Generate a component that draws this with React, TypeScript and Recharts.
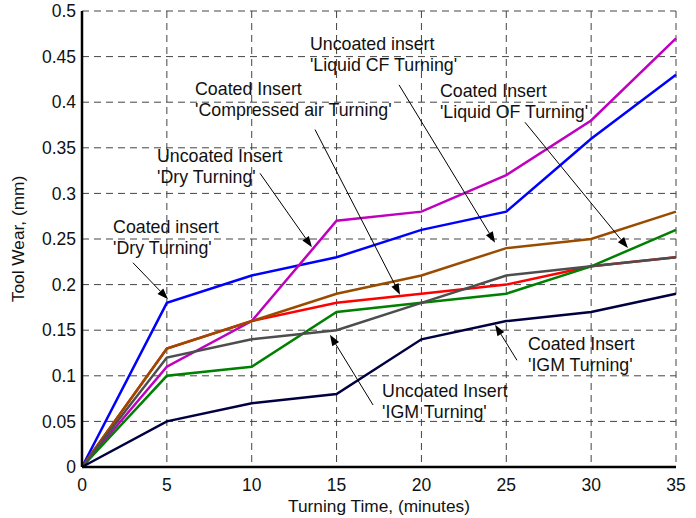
import React from 'react'
import { LineChart, Line, XAxis, YAxis, CartesianGrid, ReferenceLine, ReferenceDot } from 'recharts'

const times = [0, 5, 10, 15, 20, 25, 30, 35]
const coatedDry = [0, 0.18, 0.21, 0.23, 0.26, 0.28, 0.36, 0.43]
const uncoatedDry = [0, 0.11, 0.16, 0.27, 0.28, 0.32, 0.38, 0.47]
const coatedAir = [0, 0.13, 0.16, 0.18, 0.19, 0.2, 0.22, 0.23]
const coatedLiquidOF = [0, 0.1, 0.11, 0.17, 0.18, 0.19, 0.22, 0.26]
const uncoatedLiquidCF = [0, 0.13, 0.16, 0.19, 0.21, 0.24, 0.25, 0.28]
const uncoatedIGM = [0, 0.12, 0.14, 0.15, 0.18, 0.21, 0.22, 0.23]
const coatedIGM = [0, 0.05, 0.07, 0.08, 0.14, 0.16, 0.17, 0.19]

const xTicks = [0, 5, 10, 15, 20, 25, 30, 35]
const yTicks = [0, 0.05, 0.1, 0.15, 0.2, 0.25, 0.3, 0.35, 0.4, 0.45, 0.5]

// annotation text (data coords of first baseline) and arrow from -> to
const notes = [
  { lines: ['Coated insert', "'Dry Turning'"], x: 1.83, y: 0.257, from: [3.0, 0.224], to: [5.07, 0.184] },
  { lines: ['Uncoated Insert', "'Dry Turning'"], x: 4.42, y: 0.334, from: [10.49, 0.322], to: [13.55, 0.241] },
  { lines: ['Coated Insert', "'Compressed air Turning'"], x: 6.66, y: 0.408, from: [13.73, 0.37], to: [18.74, 0.189] },
  { lines: ['Uncoated insert', "'Liquid CF Turning'"], x: 13.43, y: 0.457, from: [18.68, 0.419], to: [24.34, 0.246] },
  { lines: ['Coated Insert', "'Liquid OF Turning'"], x: 21.09, y: 0.406, from: [26.1, 0.378], to: [32.17, 0.24] },
  { lines: ['Coated Insert', "'IGM Turning'"], x: 26.28, y: 0.128, from: [25.63, 0.117], to: [24.34, 0.156] },
  { lines: ['Uncoated Insert', "'IGM Turning'"], x: 17.68, y: 0.077, from: [17.15, 0.068], to: [14.61, 0.145] },
]

const data = times.map((t, i) => ({
  t,
  coatedDry: coatedDry[i],
  uncoatedDry: uncoatedDry[i],
  coatedAir: coatedAir[i],
  coatedLiquidOF: coatedLiquidOF[i],
  uncoatedLiquidCF: uncoatedLiquidCF[i],
  uncoatedIGM: uncoatedIGM[i],
  coatedIGM: coatedIGM[i],
}))

const FONT = '"Liberation Sans", Arial, sans-serif'

const Arrow = (props: any) => {
  const { x1, y1, x2, y2 } = props
  const ang = Math.atan2(y2 - y1, x2 - x1)
  const len = 11
  const w = 4
  const bx = x2 - len * Math.cos(ang)
  const by = y2 - len * Math.sin(ang)
  const px = -Math.sin(ang) * w
  const py = Math.cos(ang) * w
  return (
    <g>
      <line x1={x1} y1={y1} x2={bx} y2={by} stroke="#000" strokeWidth={1} />
      <polygon points={`${x2},${y2} ${bx + px},${by + py} ${bx - px},${by - py}`} fill="#000" />
    </g>
  )
}

const noteText = (lines: string[]) => (props: any) => (
  <text x={props.cx} y={props.cy} fontFamily={FONT} fontSize={17.8} fill="#111">
    {lines.map((l, i) => (
      <tspan key={i} x={props.cx} dy={i === 0 ? 0 : 21}>{l}</tspan>
    ))}
  </text>
)

const App: React.FC = () => {
  return (
    <div style={{ position: 'absolute', left: 0, top: 0, background: '#fff' }}>
      <LineChart width={696} height={518} data={data} margin={{ top: 11, right: 20, bottom: 0, left: 0 }}>
        <CartesianGrid stroke="#444" strokeDasharray="7 5" strokeWidth={1} />
        <XAxis
          dataKey="t"
          type="number"
          domain={[0, 35]}
          ticks={xTicks}
          height={51}
          tickLine={false}
          tickSize={6}
          tickMargin={6}
          axisLine={{ stroke: '#000', strokeWidth: 2.5 }}
          tick={{ fill: '#111', fontSize: 17.5, fontFamily: FONT }}
          label={({ viewBox }: any) => (
            <text x={viewBox.x + viewBox.width / 2} y={viewBox.y + 45} textAnchor="middle" fontFamily={FONT} fontSize={17.3} fill="#111">
              Turning Time, (minutes)
            </text>
          )}
        />
        <YAxis
          type="number"
          domain={[0, 0.5]}
          ticks={yTicks}
          width={82}
          tickLine={false}
          tickSize={6}
          tickMargin={0}
          axisLine={{ stroke: '#000', strokeWidth: 2.5 }}
          tickFormatter={(v: number) => String(v)}
          tick={{ fill: '#111', fontSize: 17.5, fontFamily: FONT }}
          label={({ viewBox }: any) => {
            const cx = viewBox.x + 24
            const cy = viewBox.y + viewBox.height / 2
            return (
              <text x={cx} y={cy} transform={`rotate(-90 ${cx} ${cy})`} textAnchor="middle" fontFamily={FONT} fontSize={17.3} fill="#111">
                Tool Wear, (mm)
              </text>
            )
          }}
        />
        <Line dataKey="coatedDry" stroke="#0000ff" strokeWidth={2.5} dot={false} isAnimationActive={false} />
        <Line dataKey="uncoatedDry" stroke="#bf00bf" strokeWidth={2.5} dot={false} isAnimationActive={false} />
        <Line dataKey="coatedAir" stroke="#ff0000" strokeWidth={2.5} dot={false} isAnimationActive={false} />
        <Line dataKey="coatedLiquidOF" stroke="#008000" strokeWidth={2.5} dot={false} isAnimationActive={false} />
        <Line dataKey="uncoatedLiquidCF" stroke="#994c00" strokeWidth={2.5} dot={false} isAnimationActive={false} />
        <Line dataKey="uncoatedIGM" stroke="#4d4d4d" strokeWidth={2.5} dot={false} isAnimationActive={false} />
        <Line dataKey="coatedIGM" stroke="#000040" strokeWidth={2.5} dot={false} isAnimationActive={false} />
        {notes.map((n, i) => (
          <ReferenceLine
            key={`a${i}`}
            segment={[{ x: n.from[0], y: n.from[1] }, { x: n.to[0], y: n.to[1] }]}
            shape={Arrow}
          />
        ))}
        {notes.map((n, i) => (
          <ReferenceDot key={`t${i}`} x={n.x} y={n.y} r={0} shape={noteText(n.lines)} />
        ))}
      </LineChart>
    </div>
  )
}

export default App
